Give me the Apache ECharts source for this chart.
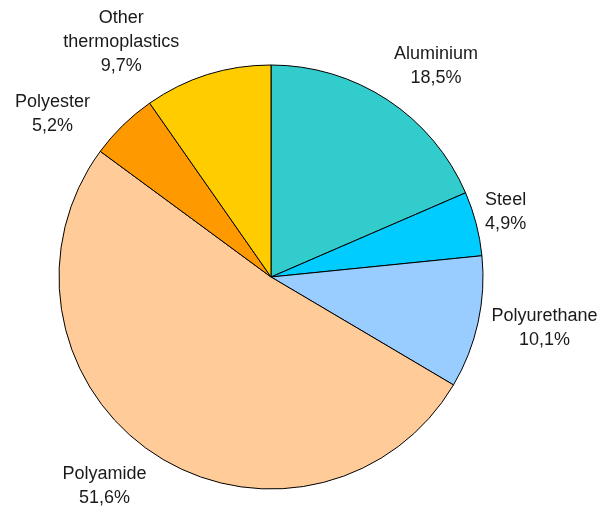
<!DOCTYPE html>
<html>
<head>
<meta charset="utf-8">
<script src="https://cdn.jsdelivr.net/npm/echarts@6/dist/echarts.min.js"></script>
<style>html,body{margin:0;padding:0;background:#fff;}#c{width:614px;height:508px;}</style>
</head>
<body>
<div id="c"></div>
<script>
const categories = ['Aluminium', 'Steel', 'Polyurethane', 'Polyamide', 'Polyester', 'Other thermoplastics'];
const labelTexts = ['Aluminium', 'Steel', 'Polyurethane', 'Polyamide', 'Polyester', 'Other\nthermoplastics'];
const shares = [18.5, 4.9, 10.1, 51.6, 5.2, 9.7];
const colors = ['#33CCCC', '#00CCFF', '#99CCFF', '#FFCC99', '#FF9900', '#FFCC00'];
// label guide lengths (radial, horizontal) used only to place the labels
const guideLen = [41, 48, 25, 39, 15, 34];
const guideLen2 = [26, -17, 42, 28, 60, 76];

const chart = echarts.init(document.getElementById('c'), null, {renderer: 'canvas'});
const data = categories.map((n, i) => ({
  name: n,
  value: shares[i],
  itemStyle: {color: colors[i]},
  labelLine: {length: guideLen[i], length2: guideLen2[i]}
}));
chart.setOption({
  animation: false,
  backgroundColor: '#ffffff',
  series: [{
    type: 'pie',
    center: [271, 277],
    radius: 212,
    startAngle: 90,
    clockwise: true,
    avoidLabelOverlap: false,
    data: data,
    itemStyle: {borderColor: '#000', borderWidth: 1},
    label: {
      show: true,
      position: 'outside',
      fontFamily: 'Liberation Sans, Arial, sans-serif',
      fontSize: 18,
      lineHeight: 24,
      color: '#1a1a1a',
      formatter: p => labelTexts[p.dataIndex] + '\n' + String(p.value).replace('.', ',') + '%'
    },
    labelLine: {show: true, lineStyle: {opacity: 0, width: 0}},
    labelLayout: function (p) {
      const pts = p.labelLinePoints;
      if (!pts) return {};
      return {x: pts[2][0], y: pts[2][1], align: 'center', verticalAlign: 'middle'};
    },
    emphasis: {disabled: true}
  }]
});
</script>
</body>
</html>
